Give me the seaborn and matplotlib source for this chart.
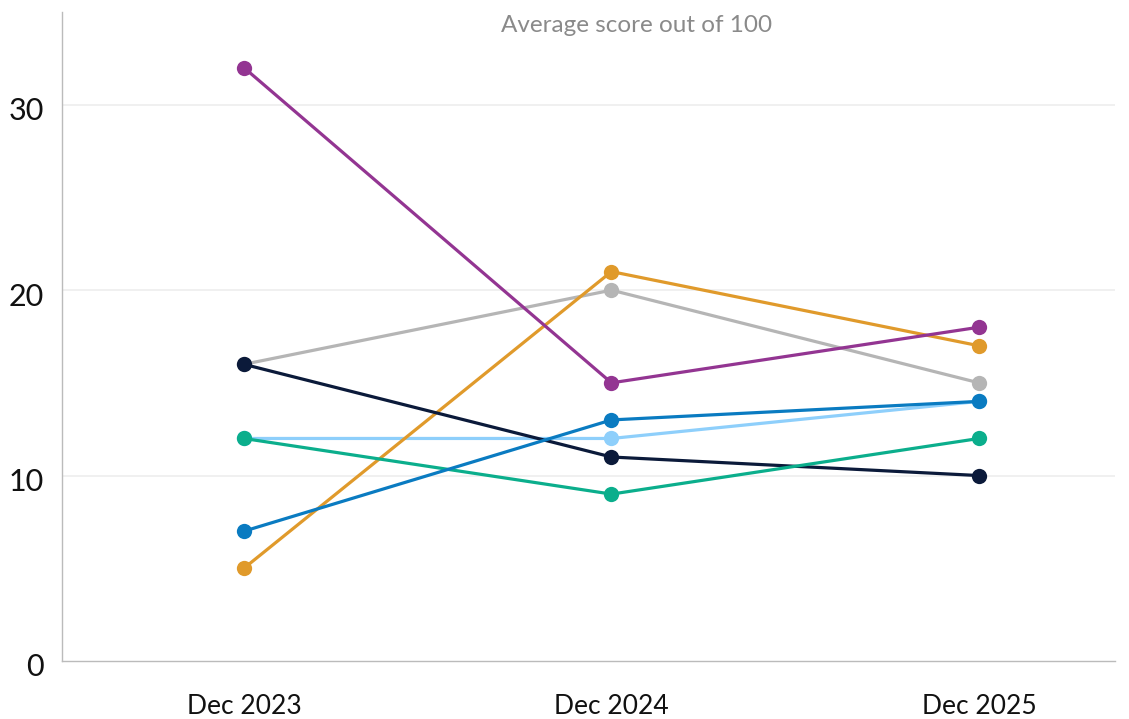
import matplotlib
matplotlib.use("Agg")
import matplotlib.pyplot as plt
import matplotlib.transforms as mtransforms
import seaborn as sns
import pandas as pd

periods = ["Dec 2023", "Dec 2024", "Dec 2025"]

series_names = ["Gray", "Light blue", "Orange", "Navy", "Green", "Blue", "Purple"]
gray_vals = [16, 20, 15]
lightblue_vals = [12, 12, 14]
orange_vals = [5, 21, 17]
navy_vals = [16, 11, 10]
green_vals = [12, 9, 12]
blue_vals = [7, 13, 14]
purple_vals = [32, 15, 18]

colors = ["#B5B5B5", "#8ECFFB", "#E09A2B", "#0B1A3A", "#0BAE8C", "#0A7BC1", "#933592"]

yticks = [0, 10, 20, 30]
title = "Average score out of 100"

values = [gray_vals, lightblue_vals, orange_vals, navy_vals, green_vals, blue_vals, purple_vals]
rows = []
for name, vals in zip(series_names, values):
    for p, v in zip(periods, vals):
        rows.append({"period": p, "score": v, "series": name})
df = pd.DataFrame(rows)

sns.set_theme(style="white")
plt.rcParams["font.family"] = ["Lato", "DejaVu Sans"]

fig = plt.figure(figsize=(11.29, 7.19), dpi=100)
ax = fig.add_axes([0.0549, 0.0807, 0.9327, 0.9026])

sns.lineplot(
    data=df, x="period", y="score", hue="series", hue_order=series_names,
    palette=colors, marker="o", markersize=11, markeredgewidth=0,
    linewidth=2.3, legend=False, ax=ax, sort=False,
)

ax.set_xlim(-0.495, 2.37)
ax.set_ylim(0, 35)
ax.set_yticks(yticks)
ax.set_yticklabels([str(t) for t in yticks])
ax.set_xlabel("")
ax.set_ylabel("")

for t in [10, 20, 30]:
    ax.axhline(t, color="#EEEEEE", linewidth=1.2, zorder=0)

for side in ["top", "right"]:
    ax.spines[side].set_visible(False)
for side in ["left", "bottom"]:
    ax.spines[side].set_color("#BBBBBB")
    ax.spines[side].set_linewidth(1.0)

ax.tick_params(axis="y", length=0, pad=13, labelsize=22, labelcolor="#111111")
ax.tick_params(axis="x", length=0, pad=24, labelsize=19, labelcolor="#111111")

# nudge the y tick labels slightly below their gridlines
shift = mtransforms.ScaledTranslation(0, -4 / 100, fig.dpi_scale_trans)
for lab in ax.get_yticklabels():
    lab.set_transform(lab.get_transform() + shift)

fig.text(0.5635, 1 - 25 / 719, title, ha="center", va="center",
         fontsize=17.5, color="#8A8A8A")

fig.savefig("out.png", dpi=100)
